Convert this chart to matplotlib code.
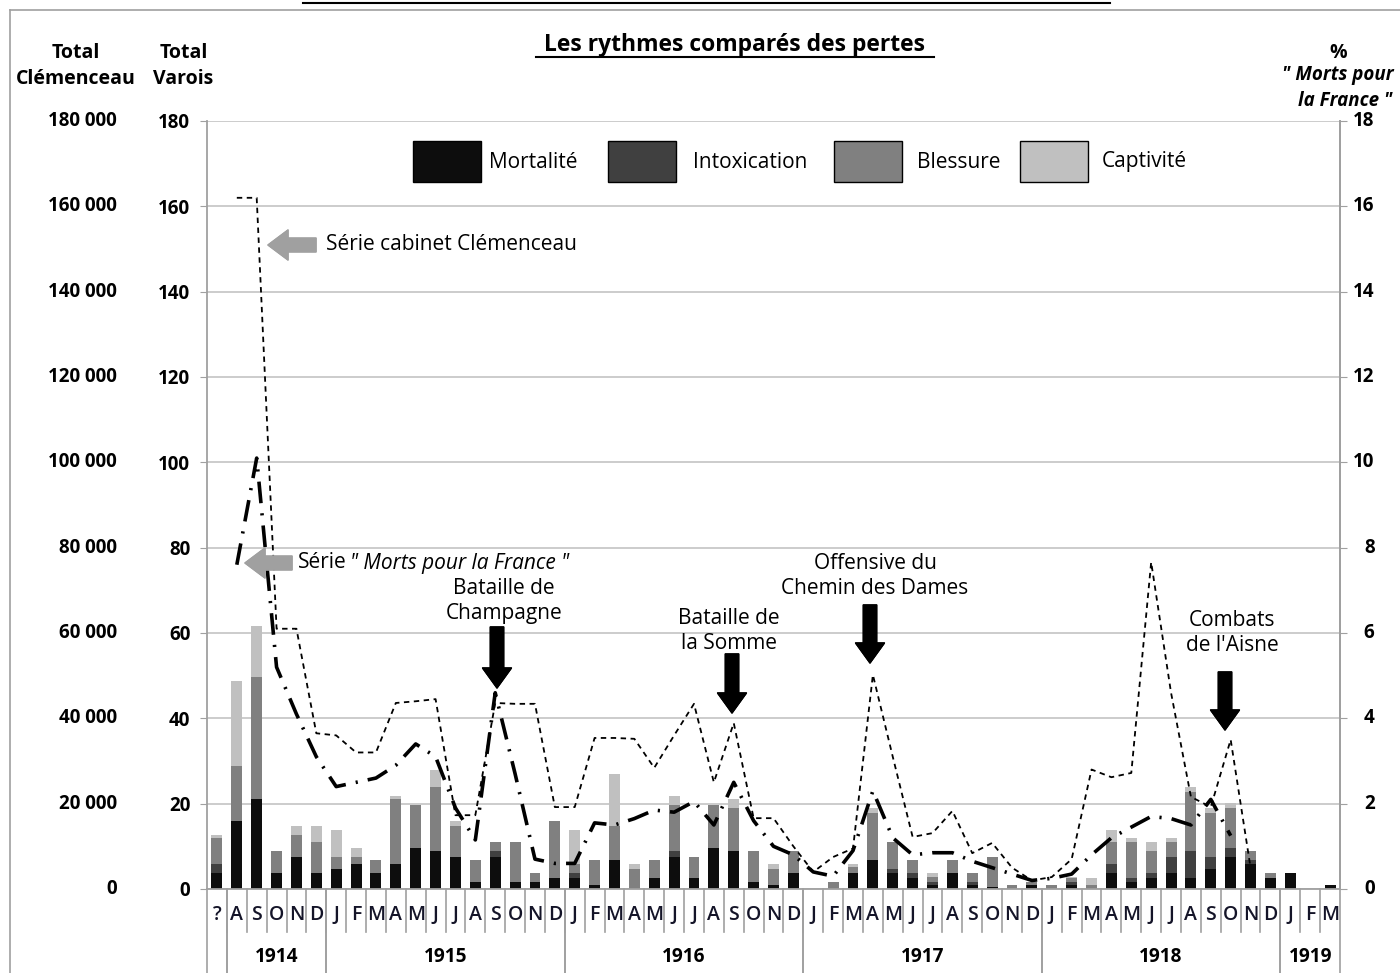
import numpy as np
import matplotlib.pyplot as plt
import matplotlib.transforms as mtransforms
from matplotlib.lines import Line2D
from matplotlib.patches import Rectangle

plt.rcParams['font.family'] = ['Open Sans', 'DejaVu Sans']

# categories: "?" then Aug 1914 ... Mar 1919
months = ['?', 'A', 'S', 'O', 'N', 'D'] + list('JFMAMJJASOND') * 4 + list('JFM')
years = [''] + ['1914'] * 5 + ['1915'] * 12 + ['1916'] * 12 + ['1917'] * 12 + ['1918'] * 12 + ['1919'] * 3

# stacked bars (Total Varois)
mortalite = [3.8, 16.0, 21.1, 3.8, 7.6, 3.8,
             4.7, 5.9, 3.8, 5.9, 9.7, 8.9, 7.6, 1.7, 7.6, 1.7, 1.7, 2.5,
             2.5, 0.9, 6.7, 0.0, 2.5, 7.6, 2.5, 9.7, 8.9, 1.7, 0.9, 3.8,
             0.0, 0.0, 3.8, 6.7, 3.8, 2.5, 0.9, 3.8, 0.9, 0.5, 0.0, 0.9,
             0.0, 0.9, 0.0, 3.8, 1.7, 2.5, 3.8, 2.5, 4.7, 7.6, 5.9, 2.5,
             3.8, 0.0, 0.9]
intoxication = [2.1, 0.0, 0.0, 0.0, 0.0, 0.0,
                0.0, 0.0, 0.0, 0.0, 0.0, 0.0, 0.0, 0.0, 1.3, 0.0, 0.0, 0.0,
                1.3, 0.0, 0.0, 0.0, 0.0, 1.3, 0.0, 0.0, 0.0, 0.0, 0.0, 0.0,
                0.0, 0.0, 0.0, 0.0, 0.9, 1.3, 0.8, 0.0, 0.8, 0.0, 0.0, 0.0,
                0.0, 0.8, 0.0, 2.1, 0.8, 1.3, 3.8, 6.4, 2.9, 2.1, 0.8, 0.0,
                0.0, 0.0, 0.0]
blessure = [6.0, 12.8, 28.6, 5.1, 5.0, 7.2,
            2.9, 1.7, 2.9, 15.2, 10.1, 15.1, 7.1, 5.0, 2.1, 9.3, 2.1, 13.5,
            2.1, 5.8, 8.0, 4.7, 4.2, 10.9, 5.1, 10.1, 10.1, 7.2, 3.8, 5.1,
            0.0, 1.7, 1.3, 11.0, 6.3, 2.9, 1.2, 2.9, 2.1, 7.1, 0.9, 0.8,
            0.9, 0.8, 0.9, 5.1, 8.5, 5.1, 3.4, 13.9, 10.1, 9.3, 2.2, 1.3,
            0.0, 0.0, 0.0]
captivite = [0.7, 19.9, 11.9, 0.0, 2.1, 3.7,
             6.3, 2.1, 0.0, 0.8, 0.0, 3.9, 1.3, 0.0, 0.0, 0.0, 0.0, 0.0,
             8.0, 0.0, 12.3, 1.2, 0.0, 2.1, 0.0, 0.0, 2.1, 0.0, 1.2, 0.0,
             0.0, 0.0, 0.8, 1.3, 0.0, 0.0, 0.9, 0.0, 0.0, 0.0, 0.0, 0.0,
             0.0, 0.4, 1.6, 2.9, 0.9, 2.1, 0.9, 1.2, 1.3, 1.2, 0.0, 0.0,
             0.0, 0.0, 0.0]

# "Serie cabinet Clemenceau" (thousands, left axis)
clemenceau = [None, 162, 162, 61, 61, 36.5,
              36, 32, 32, 43.6, 44, 44.5, 17.3, 17.3, 43.6, 43.4, 43.4, 19.2,
              19.2, 35.4, 35.4, 35.2, 28.4, 36, 43.4, 25, 38.9, 16.6, 16.6, 10,
              4, 7.5, 9.5, 50.2, 31, 12.2, 13.1, 18.3, 8.4, 10.8, 5, 2,
              2.8, 7, 28, 26.2, 27.2, 76.6, 46, 21.6, 19.2, 35, 5, None,
              None, None, None]
# "Morts pour la France" (%, right axis)
morts_france = [None, 7.6, 10.1, 5.2, 4.1, 3.1,
                2.4, 2.5, 2.6, 2.9, 3.4, 3.1, 1.9, 1.15, 4.6, 2.7, 0.7, 0.6,
                0.6, 1.55, 1.5, 1.65, 1.85, 1.8, 2.05, 1.5, 2.5, 1.6, 1.0, 0.8,
                0.4, 0.3, 0.9, 2.3, 1.2, 0.8, 0.85, 0.85, 0.65, 0.5, 0.35, 0.2,
                0.25, 0.35, 0.8, 1.2, 1.45, 1.7, 1.65, 1.5, 2.1, 1.25, None, None,
                None, None, None]

series_names = ['Mortalité', 'Intoxication', 'Blessure', 'Captivité']
colors = ['#0d0d0d', '#404040', '#808080', '#c0c0c0']

W, H = 1400, 973
fig = plt.figure(figsize=(W / 100, H / 100), dpi=100)


def fx(px):
    return px / W


def fy(py):
    return 1 - py / H


ax = fig.add_axes([fx(207), fy(889), fx(1340) - fx(207), fy(121) - fy(889)])
x = np.arange(len(months))

bottom = np.zeros(len(x))
for vals, col in zip([mortalite, intoxication, blessure, captivite], colors):
    ax.bar(x, vals, 0.55, bottom=bottom, color=col, zorder=2)
    bottom += np.array(vals)

clem = np.array([np.nan if v is None else v for v in clemenceau])
ax.plot(x, clem, color='black', lw=1.3, ls=(0, (3, 2.5)), zorder=3)

ax.set_xlim(-0.5, len(months) - 0.5)
ax.set_ylim(0, 180)
ax.set_yticks(range(0, 181, 20))
ax.tick_params(axis='y', length=5, color='#a0a0a0', pad=7, labelsize=13.5)
for lab in ax.get_yticklabels():
    lab.set_fontweight('bold')
ax.set_xticks([])
ax.grid(axis='y', color='#c8c8c8', lw=1.3)
ax.set_axisbelow(True)
ax.spines['top'].set_visible(False)
for s in ['left', 'right', 'bottom']:
    ax.spines[s].set_color('#a0a0a0')
    ax.spines[s].set_linewidth(1.3)

ax2 = ax.twinx()
ax2.set_ylim(0, 18)
mpf = np.array([np.nan if v is None else v for v in morts_france])
ax2.plot(x, mpf, color='black', lw=2.6, ls=(0, (6, 2.8, 0.6, 2.8)), zorder=3)
ax2.set_yticks(range(0, 19, 2))
ax2.set_yticklabels([])
ax2.tick_params(axis='y', length=5, color='#a0a0a0')
for s in ['top', 'left', 'bottom']:
    ax2.spines[s].set_visible(False)
ax2.spines['right'].set_color('#a0a0a0')
ax2.spines['right'].set_linewidth(1.3)

# Clemenceau and % tick labels
tl = mtransforms.blended_transform_factory(ax.transAxes, ax.transData)
for v in range(0, 181, 20):
    lab = f"{v * 1000:,}".replace(',', ' ')
    ax.text(-0.0794, v, lab, transform=tl, ha='right', va='center',
            fontsize=13.5, fontweight='bold')
tr = mtransforms.blended_transform_factory(ax2.transAxes, ax2.transData)
for v in range(0, 19, 2):
    ax2.text(1.0305, v, str(v), transform=tr, ha='right', va='center',
             fontsize=13.5, fontweight='bold')

# month / year axis
tm = mtransforms.blended_transform_factory(ax.transData, ax.transAxes)
for i, m in enumerate(months):
    ax.text(i, -0.034, m, transform=tm, ha='center', va='center',
            fontsize=14, fontweight='semibold', color='#141428')
for i in range(1, len(months)):
    ax.plot([i - 0.5, i - 0.5], [0, -0.056], transform=tm, color='#a0a0a0',
            lw=1.2, clip_on=False)
bounds = [0] + [i for i in range(1, len(years)) if years[i] != years[i - 1]] + [len(years)]
for a, b in zip(bounds[:-1], bounds[1:]):
    for edge in (a - 0.5, b - 0.5):
        ax.plot([edge, edge], [0, -0.11], transform=tm, color='#a0a0a0',
                lw=1.2, clip_on=False)
    if years[a]:
        ax.text((a + b - 1) / 2, -0.0885, years[a], transform=tm, ha='center',
                va='center', fontsize=13.8, fontweight='bold')

# headers
hdr = dict(ha='center', va='center', fontsize=14, fontweight='bold')
fig.text(fx(76), fy(53), 'Total', **hdr)
fig.text(fx(76), fy(79), 'Clémenceau', **hdr)
fig.text(fx(184), fy(53), 'Total', **hdr)
fig.text(fx(183), fy(79), 'Varois', **hdr)
fig.text(fx(1338), fy(53), '%', **hdr)
fig.text(fx(1394), fy(75), '" Morts pour', ha='right', va='center', fontsize=13.5,
         fontweight='bold', style='italic')
fig.text(fx(1392), fy(101), 'la France "', ha='right', va='center', fontsize=13.5,
         fontweight='bold', style='italic')

fig.text(fx(735), fy(45), 'Les rythmes comparés des pertes', ha='center', va='center',
         fontsize=16.5, fontweight='bold')
fig.add_artist(Line2D([fx(536), fx(934)], [fy(57), fy(57)], color='black', lw=1.5))

# legend
for x0, tx, lab, col in zip([413, 608, 834, 1020], [489, 693, 917, 1102], series_names, colors):
    fig.patches.append(Rectangle((fx(x0), fy(182)), 68 / W, 41 / H, transform=fig.transFigure,
                                 facecolor=col, edgecolor='black', lw=1))
    fig.text(fx(tx), fy(162), lab, ha='left', va='center', fontsize=15)

# series labels with grey arrows
fig.text(fx(326), fy(245), 'Série cabinet Clémenceau', ha='left', va='center', fontsize=15)
fig.text(fx(298), fy(563), 'Série', ha='left', va='center', fontsize=15)
fig.text(fx(350), fy(563), '" Morts pour la France "', ha='left', va='center',
         fontsize=15, style='italic')
grey = dict(arrowstyle='simple,head_length=0.8,head_width=1.2,tail_width=0.55',
            color='#a0a0a0', mutation_scale=18, shrinkA=0, shrinkB=0)
for tail, tip, yy in [(316, 268, 245), (292, 245, 563)]:
    fig.add_artist(plt.annotate('', xy=(fx(tip), fy(yy)), xytext=(fx(tail), fy(yy)),
                                xycoords='figure fraction', textcoords='figure fraction',
                                arrowprops=grey))

# battle annotations
battles = [('Bataille de\nChampagne', 504, 601, 497, 627, 688),
           ('Bataille de\nla Somme', 729, 631, 732, 654, 713),
           ('Offensive du\nChemin des Dames', 875, 576, 870, 605, 663),
           ('Combats\nde l\'Aisne', 1232, 633, 1225, 672, 730)]
black = dict(arrowstyle='simple,head_length=0.9,head_width=1.3,tail_width=0.6',
             color='black', mutation_scale=16, shrinkA=0, shrinkB=0)
for txt, tx, ty, axx, y0, y1 in battles:
    fig.text(fx(tx), fy(ty), txt, ha='center', va='center', fontsize=15, linespacing=1.25)
    fig.add_artist(plt.annotate('', xy=(fx(axx), fy(y1)), xytext=(fx(axx), fy(y0)),
                                xycoords='figure fraction', textcoords='figure fraction',
                                arrowprops=black))

# frame and cropped line from page above
fig.add_artist(Line2D([fx(10), 1], [fy(10), fy(10)], color='#a0a0a0', lw=1.2))
fig.add_artist(Line2D([fx(10), fx(10)], [fy(10), 0], color='#a0a0a0', lw=1.2))
fig.add_artist(Line2D([fx(303), fx(1110)], [fy(3), fy(3)], color='black', lw=1.5))

fig.savefig('out.png', dpi=100)
